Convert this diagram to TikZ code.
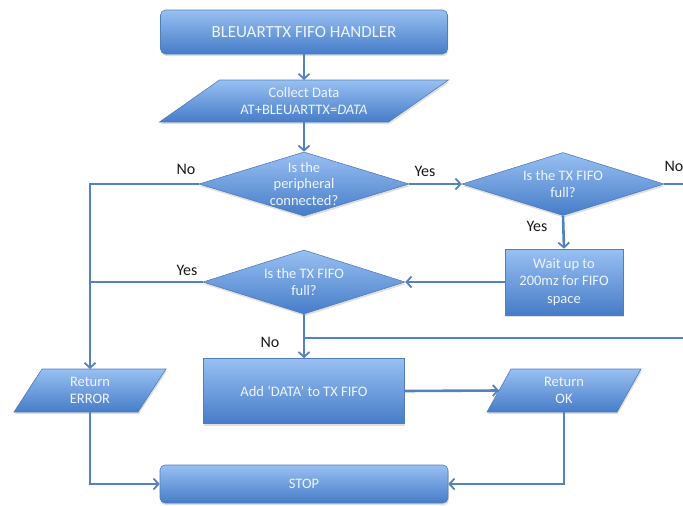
\documentclass[tikz,border=0pt]{standalone}
\usepackage{fontspec}
\setmainfont{Carlito}
\usetikzlibrary{shapes.geometric,arrows.meta,shadows,backgrounds}
\definecolor{ln}{RGB}{84,130,190}
\definecolor{ftop}{RGB}{152,192,242}
\definecolor{fbot}{RGB}{70,124,200}
\definecolor{edgec}{RGB}{82,124,186}
\definecolor{txt}{RGB}{238,244,253}
\definecolor{lbl}{RGB}{25,25,25}
\begin{document}
\begin{tikzpicture}[x=1pt,y=-1pt,
  shapefill/.style={draw=edgec, line width=0.6pt, top color=ftop, bottom color=fbot,
    drop shadow={shadow xshift=0.8pt, shadow yshift=-2.2pt, opacity=0.25}},
  boxnode/.style={shapefill, rectangle, inner sep=0pt, text=txt, align=center,
    font=\fontsize{14.5}{17.5}\selectfont},
  roundbox/.style={boxnode, rounded corners=5pt},
  pbox/.style={rectangle, inner sep=0pt, outer sep=0pt, text=txt, align=center,
    font=\fontsize{14.5}{17.5}\selectfont},
  dia/.style={shapefill, diamond, inner sep=0pt},
  dtext/.style={text=txt, align=center, inner sep=0pt, font=\fontsize{14.5}{16.5}\selectfont},
  lbl/.style={text=lbl, inner sep=0pt, font=\fontsize{16}{18}\selectfont},
  conn/.style={draw=ln, line width=2.6pt},
  arr/.style={conn, -{Straight Barb[length=5pt,width=11pt,line width=1.8pt]}},
]
\useasboundingbox (0,0) rectangle (683,506);

% nodes
\node[roundbox, minimum width=287pt, minimum height=44pt, font=\fontsize{17}{20}\selectfont] (title) at (304,32) {BLEUARTTX FIFO HANDLER};
\node[pbox, minimum width=229pt, minimum height=42pt] (collect) at (304,101) {Collect Data\\AT+BLEUARTTX=\textit{DATA}};
\node[dia, minimum width=210pt, minimum height=64pt] (d1) at (304,184) {};
\node[dtext] (d1t) at (d1.center) {Is the\\peripheral\\connected?};
\node[dia, minimum width=202pt, minimum height=63pt] (d2) at (563,184) {};
\node[dtext] (d2t) at (d2.center) {Is the TX FIFO\\full?};
\node[boxnode, minimum width=118pt, minimum height=66pt] (wait) at (564,282) {Wait up to\\200mz for FIFO\\space};
\node[dia, minimum width=202pt, minimum height=64pt] (d3) at (304,282) {};
\node[dtext] (d3t) at (d3.center) {Is the TX FIFO\\full?};
\node[boxnode, minimum width=201pt, minimum height=65pt] (add) at (304,391) {Add `DATA' to TX FIFO};
\node[pbox, minimum width=124pt, minimum height=43pt] (err) at (90,390.5) {Return\\ERROR};
\node[pbox, minimum width=130pt, minimum height=43pt] (ok) at (564,390.5) {Return\\OK};
\node[roundbox, minimum width=288pt, minimum height=38pt] (stop) at (304,484) {STOP};

% parallelogram bodies
\begin{scope}[on background layer]
  \path[shapefill] ([xshift=30pt]collect.north west) -- ([xshift=30pt]collect.north east)
    -- ([xshift=-30pt]collect.south east) -- ([xshift=-30pt]collect.south west) -- cycle;
  \path[shapefill] ([xshift=14pt]err.north west) -- ([xshift=14pt]err.north east)
    -- ([xshift=-14pt]err.south east) -- ([xshift=-14pt]err.south west) -- cycle;
  \path[shapefill] ([xshift=12pt]ok.north west) -- ([xshift=12pt]ok.north east)
    -- ([xshift=-12pt]ok.south east) -- ([xshift=-12pt]ok.south west) -- cycle;
\end{scope}

% labels
\node[lbl] (l1) at (186,169) {No};
\node[lbl] (l2) at (425,171) {Yes};
\node[lbl] (l3) at (674,166) {No};
\node[lbl] (l4) at (537,226) {Yes};
\node[lbl] (l5) at (187,270) {Yes};
\node[lbl] (l6) at (270,342) {No};

% connector helpers
\coordinate (rc1) at (700,184);
\coordinate (rc2) at (700,338);

% connectors
\draw[arr] (title.south) -- (collect.north);
\draw[arr] (collect.south) -- (d1.north);
\draw[arr] (d1.west) -| (err.north);
\draw[arr] (d1.east) -- (d2.west);
\draw[arr] (d2.south) -- (wait.north);
\draw[arr] (wait.west) -- (d3.east);
\draw[conn] (d3.west) -- (err.north |- d3.west);
\draw[arr] (d3.south) -- (add.north);
\draw[conn] (d2.east) -- (rc1) -- (rc2) -- (d3.south |- rc2);
\draw[arr] (add.east) -- (ok.west);
\draw[arr] (err.south) |- (stop.west);
\draw[arr] (ok.south) |- (stop.east);
\end{tikzpicture}
\end{document}
